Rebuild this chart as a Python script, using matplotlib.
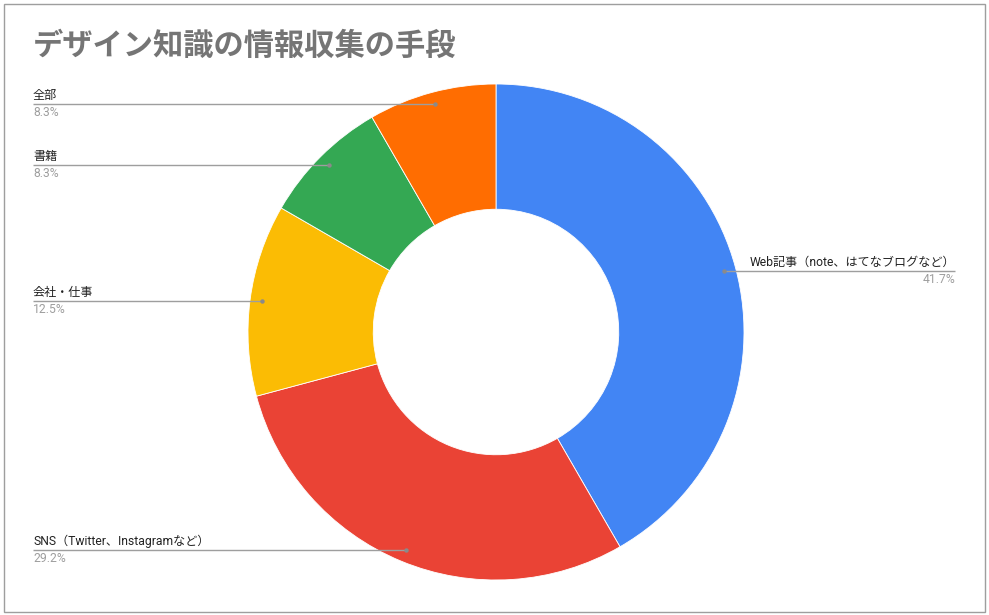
import matplotlib
matplotlib.use("Agg")
import matplotlib.pyplot as plt
import numpy as np
from matplotlib.patches import Rectangle

categories = ["Web記事（note、はてなブログなど）", "SNS（Twitter、Instagramなど）", "会社・仕事", "書籍", "全部"]
values = [10, 7, 3, 2, 2]
colors = ["#4285F4", "#EA4335", "#FBBC04", "#34A853", "#FF6D01"]
title = "デザイン知識の情報収集の手段"

W, H = 989, 615
fig = plt.figure(figsize=(W / 100, H / 100), dpi=100)
ax = fig.add_axes([0, 0, 1, 1])

cx, cy = 496, H - 332
R = 248
wedges, _ = ax.pie(values, colors=colors, startangle=90, counterclock=False,
                   radius=R, center=(cx, cy),
                   wedgeprops=dict(width=R * 0.505, edgecolor="white", linewidth=0.6))
ax.set_xlim(0, W)
ax.set_ylim(0, H)
ax.set_aspect("equal")
ax.axis("off")

fam = ["Roboto", "Noto Sans CJK JP", "DejaVu Sans"]
total = sum(values)
for w, cat, v in zip(wedges, categories, values):
    th = np.deg2rad((w.theta1 + w.theta2) / 2)
    px = cx + 0.95 * R * np.cos(th)
    py = cy + 0.95 * R * np.sin(th)
    pct = f"{100 * v / total:.1f}%"
    if px >= cx:
        x_end = 955
        ha = "right"
    else:
        x_end = 33
        ha = "left"
    ax.plot([px, x_end], [py, py], color="#9e9e9e", lw=1.0, solid_capstyle="butt")
    ax.plot([px], [py], "o", color="#8a8a8a", ms=3.2, mec="none")
    ax.text(x_end, py + 2, cat, ha=ha, va="bottom", fontsize=8.7, color="#222222", family=fam)
    ax.text(x_end, py - 2, pct, ha=ha, va="top", fontsize=8.7, color="#9e9e9e", family=fam)

ax.text(33, H - 46, title, ha="left", va="center", fontsize=21.8, fontweight="bold",
        color="#757575", family=["Noto Sans CJK JP", "DejaVu Sans"])

ax.add_patch(Rectangle((3.5, H - 611.5), 981, 608, fill=False, edgecolor="#9e9e9e", lw=1.0))

fig.savefig("out.png", dpi=100)
